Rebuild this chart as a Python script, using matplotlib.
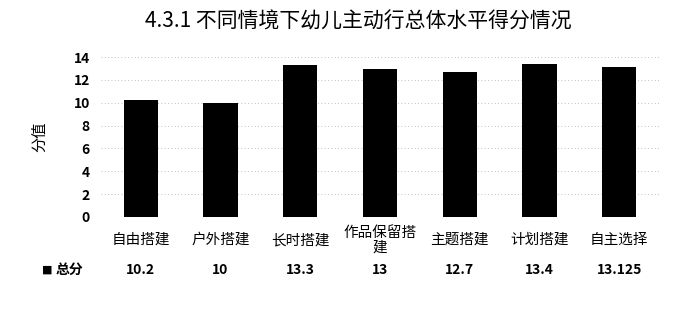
import matplotlib
matplotlib.use("Agg")
import matplotlib.pyplot as plt
import matplotlib.transforms as mtransforms

plt.rcParams['font.family'] = ['Noto Sans CJK SC', 'DejaVu Sans']

categories = ['自由搭建', '户外搭建', '长时搭建', '作品保留搭\n建', '主题搭建', '计划搭建', '自主选择']
values = [10.2, 10, 13.3, 13, 12.7, 13.4, 13.125]
value_labels = ['10.2', '10', '13.3', '13', '12.7', '13.4', '13.125']
yticks = [0, 2, 4, 6, 8, 10, 12, 14]

fig = plt.figure(figsize=(6.91, 3.12), dpi=100)
ax = fig.add_axes([0.146, 0.3045, 0.808, 0.5125])

x = list(range(len(categories)))
ax.bar(x, values, width=0.43, color='black', zorder=3)

ax.set_xlim(-0.5, len(categories) - 0.5)
ax.set_ylim(0, 14)
ax.set_yticks(yticks)
ax.set_yticklabels([str(t) for t in yticks], fontsize=10, fontweight='bold')
ax.set_xticks([])
ax.tick_params(axis='y', length=0, pad=8)
for s in ax.spines.values():
    s.set_visible(False)
ax.grid(axis='y', color='#aaaaaa', linestyle=(0, (1, 3)), linewidth=0.6, zorder=0)
ax.axhline(0, color='#888888', linestyle=(0, (1, 2)), linewidth=0.7, zorder=1)

ax.set_ylabel('分值', fontsize=11, labelpad=18)

# data table below the axis
trans = mtransforms.blended_transform_factory(ax.transData, fig.transFigure)
for i, (c, v) in enumerate(zip(categories, value_labels)):
    ax.text(i, 1 - 240 / 312, c, transform=trans, ha='center', va='center',
            fontsize=10.5, linespacing=1.1)
    ax.text(i, 1 - 270 / 312, v, transform=trans, ha='center', va='center',
            fontsize=10, fontweight='bold')

fig.text(42 / 691, 1 - 270 / 312, '■', ha='left', va='center', fontsize=8,
         family=['DejaVu Sans'])
fig.text(56 / 691, 1 - 270 / 312, '总分', ha='left', va='center', fontsize=10,
         fontweight='bold')

fig.text(358 / 691, 1 - 22 / 312, '4.3.1 不同情境下幼儿主动行总体水平得分情况',
         ha='center', va='center', fontsize=15)

fig.savefig('out.png', dpi=100)
